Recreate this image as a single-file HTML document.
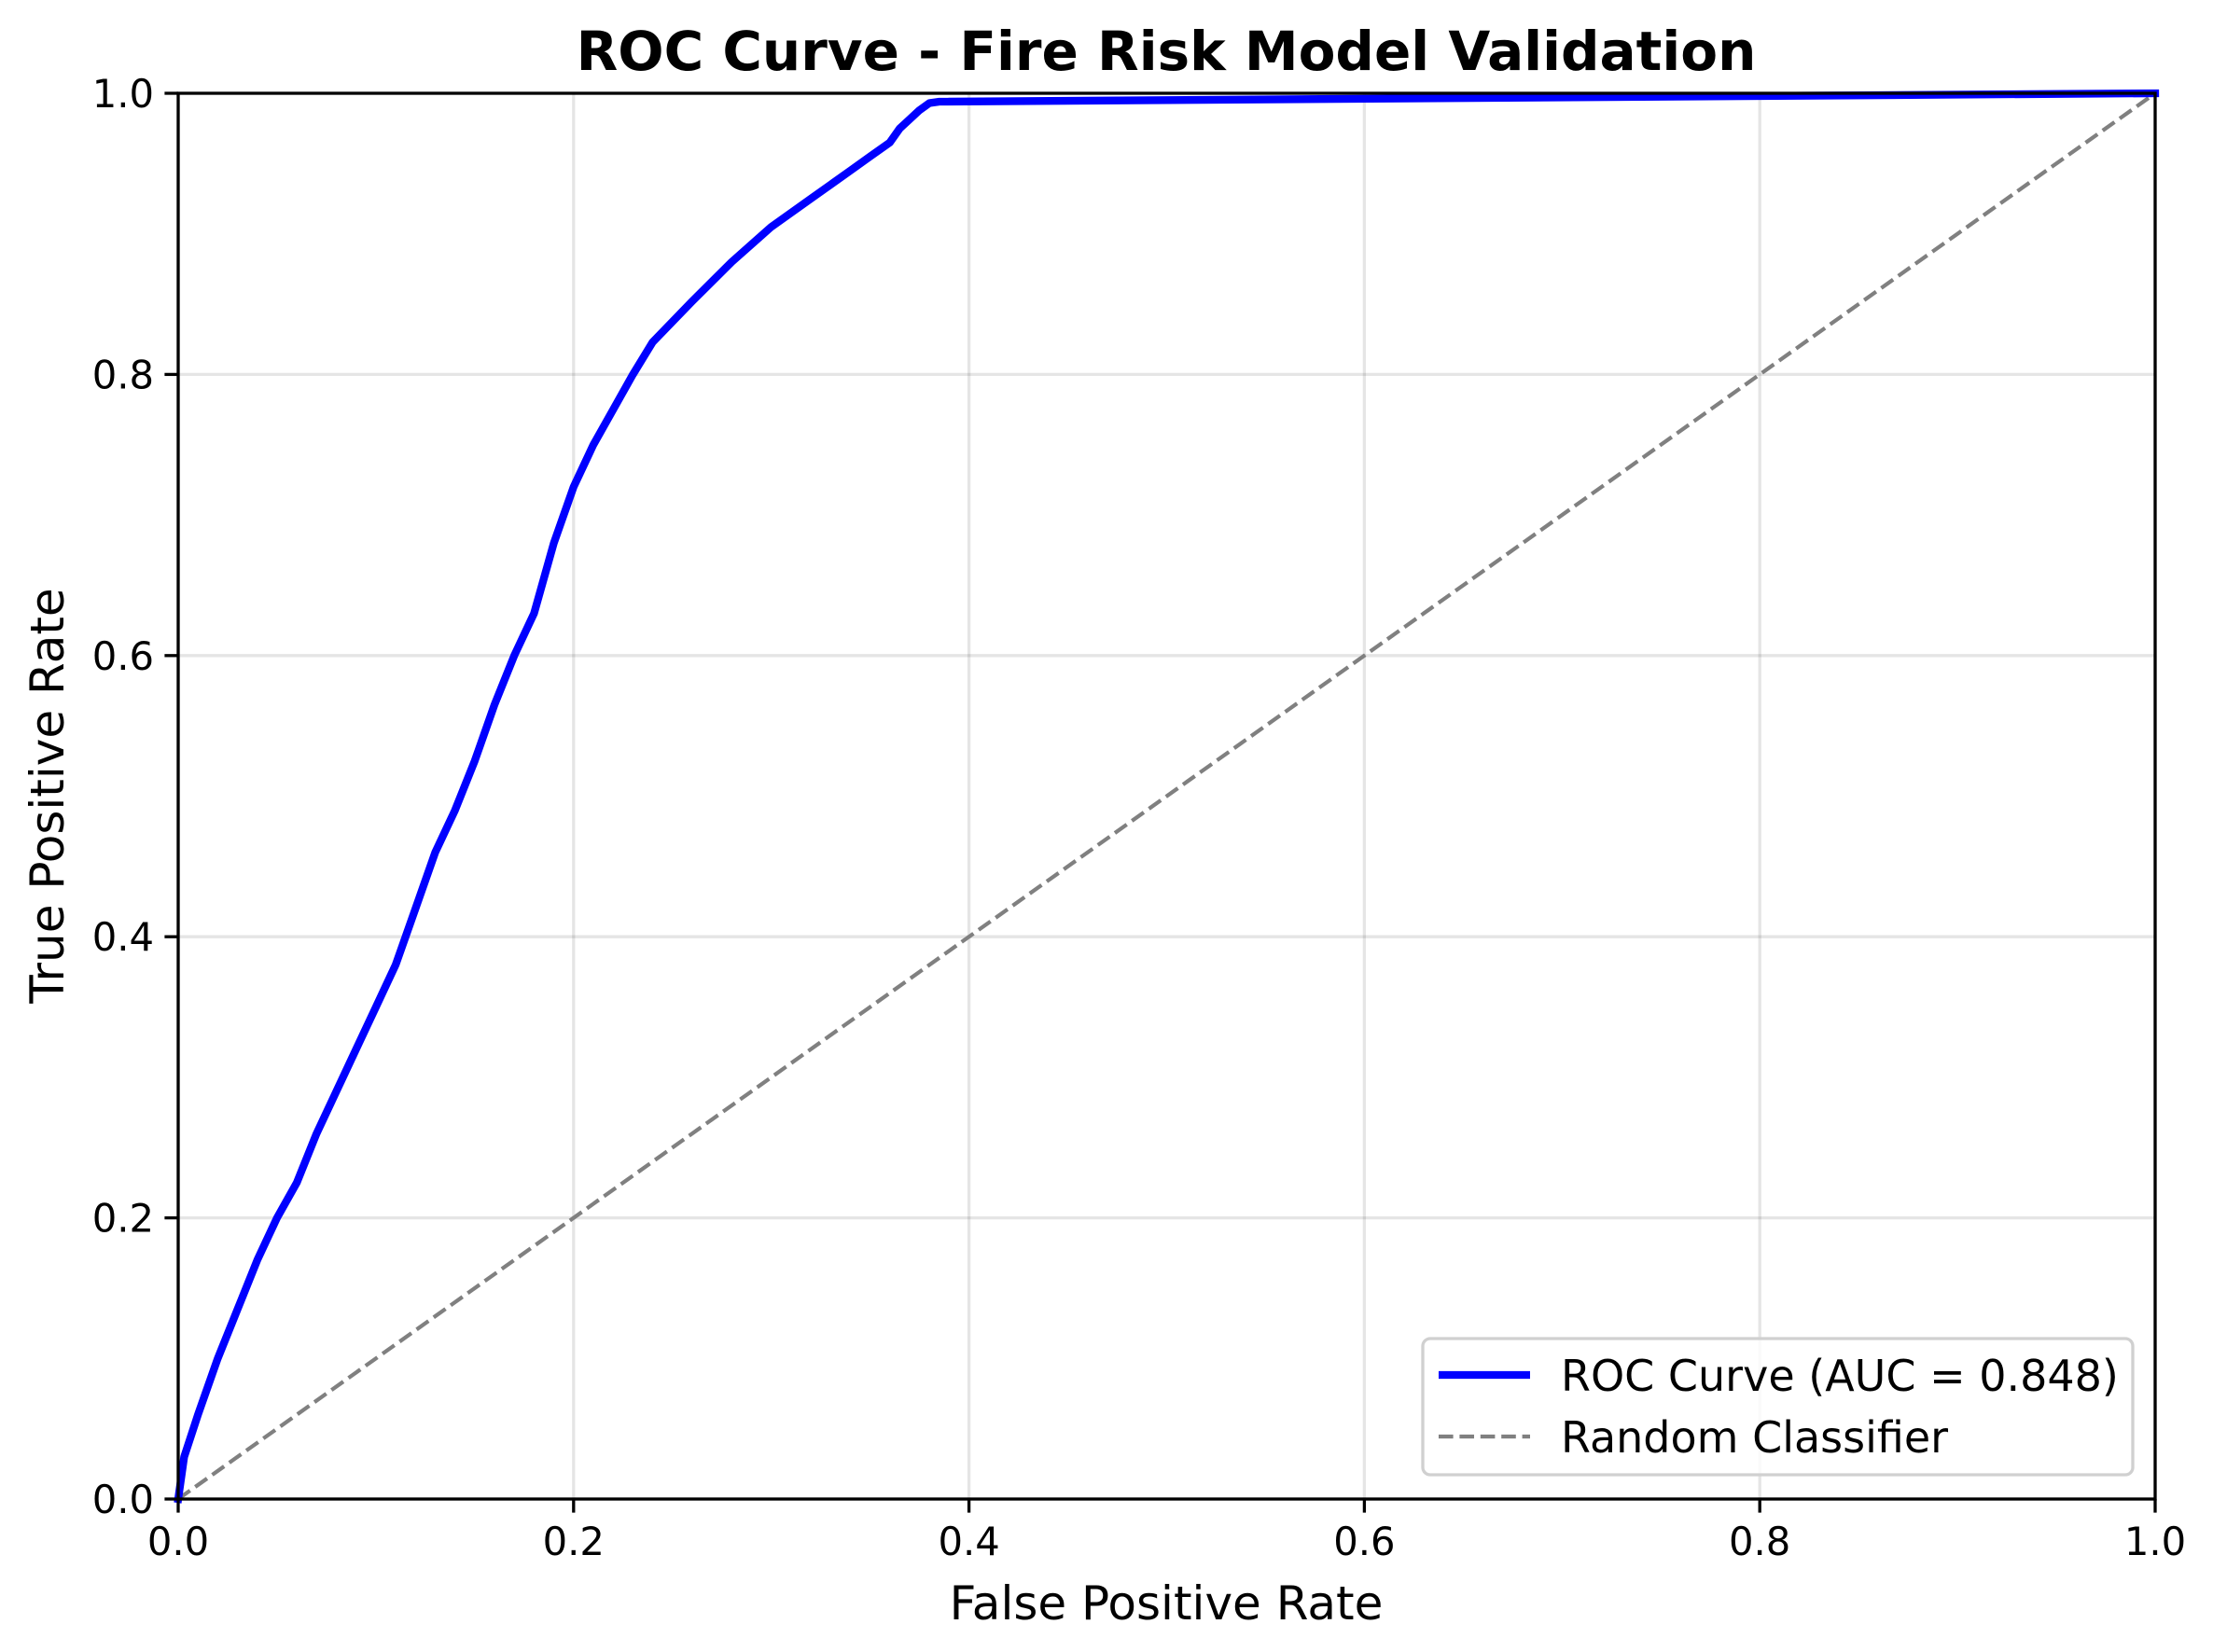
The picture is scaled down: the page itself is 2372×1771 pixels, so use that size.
<!DOCTYPE html>
<html><head><meta charset="utf-8"><style>
html,body{margin:0;padding:0;background:#fff;}
svg{display:block;font-family:"DejaVu Sans","Liberation Sans",sans-serif;}
</style></head><body>
<svg id="chart" width="2372" height="1771" viewBox="0 0 2372 1771" xmlns="http://www.w3.org/2000/svg">
<rect width="2372" height="1771" fill="#fff"/>
<g id="grid"></g>
<g id="diag"></g>
<g id="curve"></g>
<rect x="191" y="100" width="2119" height="1507" fill="none" stroke="#000" stroke-width="3.3"/>
<g id="ticks"></g>
<text x="1250" y="75" text-anchor="middle" font-size="58" font-weight="bold">ROC Curve - Fire Risk Model Validation</text>
<text x="1250" y="1736" text-anchor="middle" font-size="50">False Positive Rate</text>
<text transform="translate(68,853) rotate(-90)" text-anchor="middle" font-size="50">True Positive Rate</text>
<g>
<rect x="1525" y="1435" width="761" height="146" rx="8" fill="#fff" fill-opacity="0.8" stroke="#d0d0d0" stroke-width="3.3"/>
<line x1="1542" y1="1474" x2="1640" y2="1474" stroke="#0000ff" stroke-width="8.3"/>
<text x="1673" y="1491" font-size="46">ROC Curve (AUC = 0.848)</text>
<line x1="1542" y1="1540" x2="1640" y2="1540" stroke="#808080" stroke-width="4.2" stroke-dasharray="15.6,6.8"/>
<text x="1673" y="1557" font-size="46">Random Classifier</text>
</g>
</svg>
<script>
const fprValues=[0,0.003,0.01,0.02,0.03,0.04,0.05,0.06,0.07,0.08,0.09,0.1,0.11,0.12,0.13,0.14,0.15,0.16,0.17,0.18,0.19,0.2,0.21,0.22,0.23,0.24,0.26,0.28,0.30,0.32,0.34,0.35,0.36,0.365,0.375,0.38,0.385,1];
const tprValues=[0,0.03,0.06,0.1,0.135,0.17,0.2,0.225,0.26,0.29,0.32,0.35,0.38,0.42,0.46,0.49,0.525,0.565,0.6,0.63,0.68,0.72,0.75,0.775,0.8,0.823,0.852,0.88,0.905,0.925,0.945,0.955,0.965,0.975,0.988,0.993,0.994,1];
const tickValues=[0,0.2,0.4,0.6,0.8,1.0];
const tickLabels=["0.0","0.2","0.4","0.6","0.8","1.0"];
const L=191,R=2310,T=100,B=1607;
const sx=v=>L+v*(R-L), sy=v=>B-v*(B-T);
const NS="http://www.w3.org/2000/svg";
function mk(tag,attrs,parent){const e=document.createElementNS(NS,tag);for(const k in attrs)e.setAttribute(k,attrs[k]);parent.appendChild(e);return e;}
const grid=document.getElementById('grid'),ticks=document.getElementById('ticks');
tickValues.forEach((v,i)=>{
  const gx=mk('line',{x1:sx(v),x2:sx(v),y1:T,y2:B,stroke:'#000','stroke-opacity':0.1,'stroke-width':3.3},grid);
  
  
  const gy=mk('line',{x1:L,x2:R,y1:sy(v),y2:sy(v),stroke:'#000','stroke-opacity':0.1,'stroke-width':3.3},grid);
  
  
  const tx=mk('line',{x1:sx(v),x2:sx(v),y1:B,y2:B+14.6,stroke:'#000','stroke-width':3.3},ticks);
  
  
  const ty=mk('line',{x1:L-14.6,x2:L,y1:sy(v),y2:sy(v),stroke:'#000','stroke-width':3.3},ticks);
  
  
  const lx=mk('text',{x:sx(v),y:B+60,'text-anchor':'middle','font-size':41.7},ticks);
  lx.textContent=tickLabels[i];
  
  
  const ly=mk('text',{x:L-26,y:sy(v)+15,'text-anchor':'end','font-size':41.7},ticks);
  ly.textContent=tickLabels[i];
  
  
});
const d=mk('line',{x1:sx(0),y1:sy(0),x2:sx(1),y2:sy(1),stroke:'#808080','stroke-width':4.2,'stroke-dasharray':'15.6,6.8'},document.getElementById('diag'));


const pts=fprValues.map((f,i)=>sx(f).toFixed(1)+','+sy(tprValues[i]).toFixed(1)).join(' ');
const c=mk('polyline',{points:pts,fill:'none',stroke:'#0000ff','stroke-width':8.3,'stroke-linejoin':'round','stroke-linecap':'square'},document.getElementById('curve'));


</script>
</body></html>
